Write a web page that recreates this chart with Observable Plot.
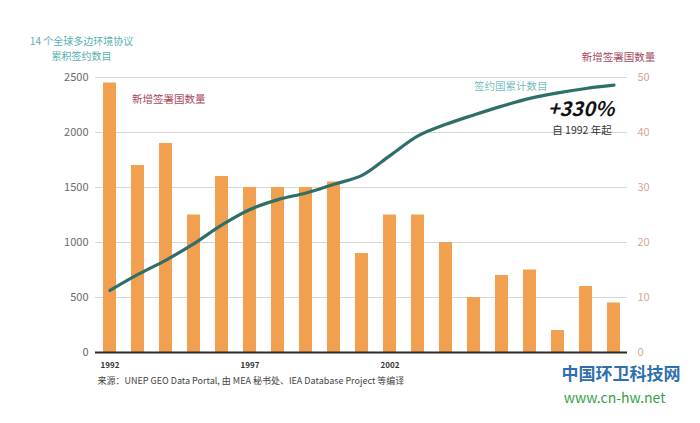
<!DOCTYPE html>
<html>
<head>
<meta charset="utf-8">
<script src="https://cdn.jsdelivr.net/npm/d3@7"></script>
<script src="https://cdn.jsdelivr.net/npm/@observablehq/plot@0.6"></script>
<style>
  html, body { margin: 0; padding: 0; background: #fff; }
  #chart { width: 700px; height: 423px; }
  svg { font-family: "Noto Sans CJK SC", "Noto Sans", sans-serif; }
</style>
</head>
<body>
<div id="chart"></div>
<script>
const years = [1992,1993,1994,1995,1996,1997,1998,1999,2000,2001,2002,2003,2004,2005,2006,2007,2008,2009,2010];
// New signatory countries per year (right axis, 0-50)
const newSignatories = [49,34,38,25,32,30,30,30,31,18,25,25,20,10,14,15,4,12,9];
// Cumulative signatures of 14 global MEAs (left axis, 0-2500)
const cumulative = [565,710,840,990,1160,1300,1390,1450,1530,1610,1790,1970,2075,2160,2240,2310,2360,2400,2430];
const leftTicks = [0,500,1000,1500,2000,2500];
const xTickLabels = [1992,1997,2002];
const ratio = 50; // 2500 on left axis aligns with 50 on right axis

const data = years.map((y, i) => ({year: y, count: newSignatories[i], cum: cumulative[i]}));

const chart = Plot.plot({
  width: 700,
  height: 423,
  marginLeft: 95,
  marginRight: 73,
  marginTop: 77,
  marginBottom: 71,
  style: {fontFamily: '"Noto Sans CJK SC", "Noto Sans", sans-serif', background: "#fff"},
  x: {type: "band", domain: years, paddingInner: 0.54, paddingOuter: 0.27},
  y: {domain: [0, 2500]},
  marks: [
    Plot.gridY(leftTicks.slice(1), {stroke: "#bbbbbb", strokeOpacity: 0.6, strokeWidth: 1}),
    Plot.barY(data, {x: "year", y: d => d.count * ratio, fill: "#f0a04f"}),
    Plot.line(data, {x: "year", y: "cum", stroke: "#2f6f6a", strokeWidth: 3.2, curve: "catmull-rom"}),
    Plot.ruleY([0], {stroke: "#2b2b2b", strokeWidth: 2.2}),
    Plot.axisY({ticks: leftTicks, tickSize: 0, tickPadding: 7, fontSize: 11, color: "#6a6a6a", tickFormat: d => String(d), label: null}),
    Plot.axisY({anchor: "right", ticks: leftTicks, tickSize: 0, tickPadding: 10, fontSize: 11, color: "#d8a793", tickFormat: d => String(d / ratio), label: null}),
    Plot.axisX({ticks: xTickLabels, tickSize: 0, tickPadding: 10, fontSize: 8, fontWeight: "bold", color: "#333", tickFormat: d => String(d), label: null}),
    // Titles
    Plot.text(["14 个全球多边环境协议"], {frameAnchor: "top-left", textAnchor: "middle", lineAnchor: "middle", dx: -14, dy: -36, fontSize: 10, fill: "#58b0ae"}),
    Plot.text(["累积签约数目"], {frameAnchor: "top-left", textAnchor: "middle", lineAnchor: "middle", dx: -14, dy: -21, fontSize: 10, fill: "#58b0ae"}),
    Plot.text(["新增签署国数量"], {frameAnchor: "top-right", textAnchor: "middle", lineAnchor: "middle", dx: -9, dy: -20, fontSize: 10.5, fill: "#a6485c"}),
    // In-plot labels
    Plot.text(["新增签署国数量"], {x: () => 1994, y: () => 2300, dx: -34, textAnchor: "start", fontSize: 10.5, fill: "#a6485c"}),
    Plot.text(["签约国累计数目"], {x: () => 2005, y: () => 2420, dx: 0, textAnchor: "start", fontSize: 10.5, fill: "#78bdbd"}),
    Plot.text(["+330%"], {x: () => 2008, y: () => 2210, dx: 23, textAnchor: "middle", fontSize: 20, fontWeight: "bold", fontStyle: "italic", fill: "#111"}),
    Plot.text(["自 1992 年起"], {x: () => 2008, y: () => 2020, dx: 24, textAnchor: "middle", fontSize: 10.5, fill: "#333"}),
    // Caption
    Plot.text(["来源：UNEP GEO Data Portal, 由 MEA 秘书处、IEA Database Project 等编译"], {frameAnchor: "bottom-left", textAnchor: "start", lineAnchor: "middle", dx: 2, dy: 29, fontSize: 9, fill: "#444"}),
    // Watermark
    Plot.text(["中国环卫科技网"], {frameAnchor: "bottom-right", textAnchor: "end", lineAnchor: "middle", dx: 53, dy: 22, fontSize: 17, fontWeight: "bold", fill: "#2f6fb0"}),
    Plot.text(["www.cn-hw.net"], {frameAnchor: "bottom-right", textAnchor: "end", lineAnchor: "middle", dx: 38, dy: 46, fontSize: 14, fill: "#3aa048"})
  ]
});
document.getElementById("chart").appendChild(chart);
</script>
</body>
</html>
